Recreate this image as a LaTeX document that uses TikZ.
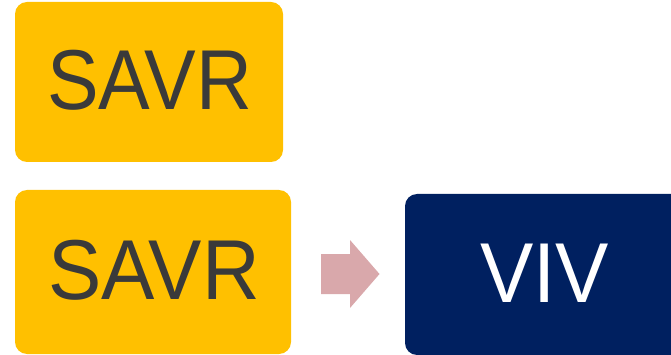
\documentclass[tikz,border=0pt]{standalone}
\usepackage{fontspec}
\setmainfont{Liberation Sans}
\definecolor{boxyellow}{RGB}{255,192,0}
\definecolor{boxtext}{RGB}{58,58,58}
\definecolor{navy}{RGB}{0,32,96}
\definecolor{arrowpink}{RGB}{217,168,171}
\tikzset{
  ybox/.style={fill=boxyellow, draw=none, rounded corners=12pt, inner sep=0pt},
  nbox/.style={fill=navy, draw=none, rounded corners=12pt, inner sep=0pt},
  bigtext/.style={inner sep=0pt, font=\fontsize{85}{85}\selectfont},
}
\begin{document}
\begin{tikzpicture}[x=1pt,y=-1pt]
\useasboundingbox (0,0) rectangle (671,355);
% boxes
\path[ybox] (15,2) rectangle (283,162);
\node[bigtext, text=boxtext, anchor=center] (t1) at (149.5,80.5) {\scalebox{0.91}[1]{SAVR}};
\path[ybox] (15,190) rectangle (291,354);
\node[bigtext, text=boxtext, anchor=center] (t2) at (154,270) {\scalebox{0.94}[1]{SAVR}};
\path[nbox] (405,194) rectangle (690,355);
\node[bigtext, text=white, anchor=center] (t3) at (544.5,273.5) {\scalebox{0.94}[1]{VIV}};
% block arrow
\coordinate (a1) at (321,254);
\coordinate (a2) at (350,254);
\coordinate (a3) at (350,240);
\coordinate (a4) at (379.5,274);
\coordinate (a5) at (350,308);
\coordinate (a6) at (350,294);
\coordinate (a7) at (321,294);
\fill[arrowpink] (a1) -- (a2) -- (a3) -- (a4) -- (a5) -- (a6) -- (a7) -- cycle;
\end{tikzpicture}
\end{document}
